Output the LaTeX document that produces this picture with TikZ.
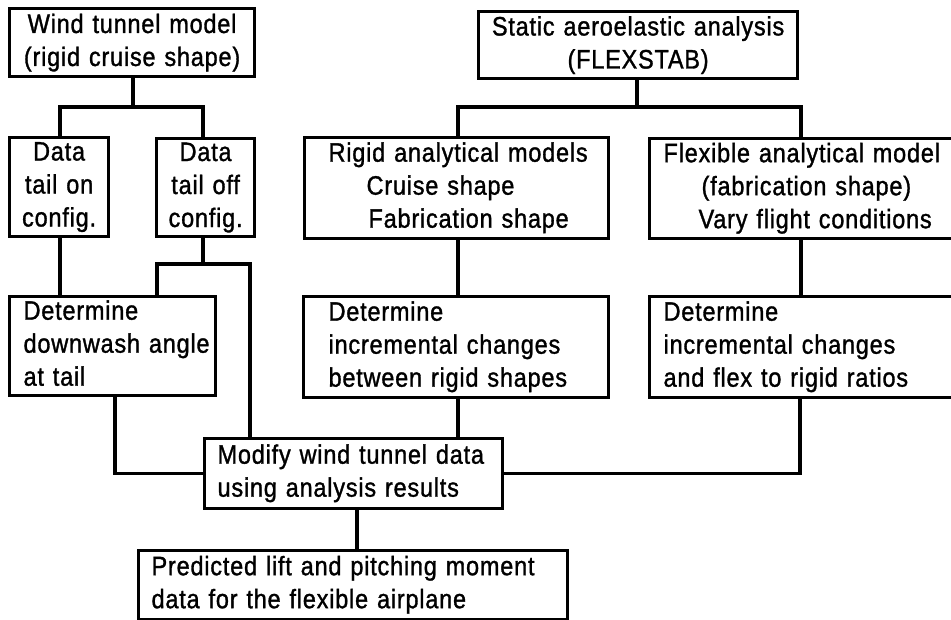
\documentclass[tikz,border=0pt]{standalone}
\usepackage{fontspec}
\setmainfont{Liberation Sans}[FakeStretch=0.88, WordSpace=1.5, FakeBold=1.2, LetterSpace=3]
\newcommand\ltab[2]{\begin{tabular}{@{\hspace{#1}}l@{}}#2\end{tabular}}
\begin{document}
\begin{tikzpicture}[x=0.75pt,y=-0.75pt,
  box/.style={draw, line width=2.4pt, anchor=north west, inner xsep=0pt, inner ysep=0pt,
    font=\fontsize{20pt}{24.75pt}\selectfont},
  cbox/.style={box, align=center},
  lbox/.style={box, align=left},
  conn/.style={line width=2.4pt}]
\useasboundingbox (0,0) rectangle (951,620);
% boxes
\node[cbox, text width=183.75pt, minimum height=51pt] (wt) at (8,7) {Wind tunnel model\\(rigid cruise shape)};
\node[cbox, text width=239.25pt, minimum height=50.25pt] (sa) at (477,10) {Static aeroelastic analysis\\(FLEXSTAB)};
\node[cbox, text width=74.25pt, minimum height=74.25pt] (ton) at (8,136) {Data\\tail on\\config.};
\node[cbox, text width=73.5pt, minimum height=73.5pt] (toff) at (155,137) {Data\\tail off\\config.};
\node[lbox, text width=228pt, minimum height=75.75pt] (rig) at (303,136)
  {\ltab{18pt}{Rigid analytical models\\\hspace{28.5pt}Cruise shape\\\hspace{30pt}Fabrication shape}};
\node[lbox, text width=232.5pt, minimum height=75pt] (flex) at (648,137)
  {\ltab{10.5pt}{Flexible analytical model\\\hspace{28.5pt}(fabrication shape)\\\hspace{26.25pt}Vary flight conditions}};
\node[lbox, text width=154.5pt, minimum height=74.25pt] (dw) at (8,295)
  {\ltab{10.5pt}{Determine\\downwash angle\\at tail}};
\node[lbox, text width=228.75pt, minimum height=75.75pt] (dr) at (302,295)
  {\ltab{18.75pt}{Determine\\incremental changes\\between rigid shapes}};
\node[lbox, text width=232.5pt, minimum height=75.75pt] (df) at (648,295)
  {\ltab{10.5pt}{Determine\\incremental changes\\and flex to rigid ratios}};
\node[lbox, text width=223.5pt, minimum height=52.5pt] (mod) at (203,437)
  {\ltab{9.75pt}{Modify wind tunnel data\\using analysis results}};
\node[lbox, text width=321.75pt, minimum height=51.75pt] (pred) at (137,549)
  {\ltab{9.75pt}{Predicted lift and pitching moment\\data for the flexible airplane}};
% junction coordinates
\coordinate (j1) at (133,107);
\coordinate (j2) at (637,107);
\coordinate (j3) at (203,264);
\coordinate (xa) at (60,0);
\coordinate (xb) at (203,0);
\coordinate (xc) at (157,0);
\coordinate (xd) at (250,0);
\coordinate (xe) at (115,0);
\coordinate (xr) at (458,0);
\coordinate (xf) at (801,0);
\coordinate (xg) at (800,0);
\coordinate (xh) at (357,0);
% connectors
\draw[conn] (wt.south -| j1) -- (j1);
\draw[conn] (ton.north -| xa) |- (j1) -| (toff.north -| xb);
\draw[conn] (sa.south -| j2) -- (j2);
\draw[conn] (rig.north -| xr) |- (j2) -| (flex.north -| xf);
\draw[conn] (ton.south -| xa) -- (dw.north -| xa);
\draw[conn] (toff.south -| xb) -- (j3);
\draw[conn] (dw.north -| xc) |- (j3) -| (mod.north -| xd);
\draw[conn] (dw.south -| xe) |- (mod.west);
\draw[conn] (rig.south -| xr) -- (dr.north -| xr);
\draw[conn] (dr.south -| xr) -- (mod.north -| xr);
\draw[conn] (flex.south -| xf) -- (df.north -| xf);
\draw[conn] (df.south -| xg) |- (mod.east);
\draw[conn] (mod.south -| xh) -- (pred.north -| xh);
\end{tikzpicture}
\end{document}
